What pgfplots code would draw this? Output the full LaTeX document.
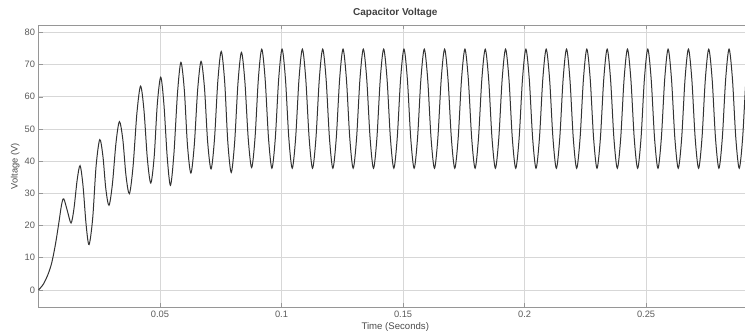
\documentclass[border=0pt]{standalone}
\usepackage{pgfplots}
\pgfplotsset{compat=1.18}
\usepackage{pgfplotstable}
\usepackage{fontspec}
\setmainfont{Liberation Sans}
\definecolor{tickgray}{RGB}{90,90,90}
\definecolor{gridgray}{RGB}{215,215,215}
\definecolor{axgray}{RGB}{150,150,150}
\pgfplotstableread[row sep=\\]{
t v\\
0 0\\ 0.002 1.8\\ 0.004 5.0\\ 0.0055 8.6\\ 0.007 14.3\\ 0.0083 20.5\\ 0.0095 26.5\\
0.0104 28.3\\ 0.0119 24.5\\ 0.0134 20.8\\ 0.0146 25.3\\ 0.0159 34.1\\
0.0171 38.6\\ 0.0183 32.5\\ 0.0196 20.2\\ 0.0208 14.1\\ 0.0223 22.3\\ 0.0237 38.5\\
0.0252 46.7\\ 0.0265 41.6\\ 0.0277 31.4\\ 0.0290 26.3\\ 0.0304 32.8\\ 0.0319 45.8\\
0.0333 52.3\\ 0.0347 46.7\\ 0.0360 35.5\\ 0.0374 29.9\\ 0.0389 38.3\\ 0.0405 55.0\\
0.0420 63.3\\ 0.0434 55.8\\ 0.0448 40.7\\ 0.0462 33.2\\ 0.0476 41.4\\ 0.0489 57.9\\
0.0503 66.1\\ 0.0516 57.7\\ 0.0530 40.9\\ 0.0543 32.5\\ 0.0557 42.1\\ 0.0572 61.2\\
0.0586 70.7\\ 0.0600 62.1\\ 0.0613 44.9\\ 0.0627 36.3\\ 0.0641 45.0\\ 0.0655 62.3\\
0.0669 71.0\\ 0.0683 62.7\\ 0.0696 46.0\\ 0.0710 37.6\\ 0.0724 46.7\\ 0.0738 65.0\\
0.0752 74.1\\ 0.0766 64.7\\ 0.0779 45.9\\ 0.0793 36.5\\ 0.0807 45.8\\ 0.0821 64.5\\
0.0835 73.8\\ 0.0849 64.9\\ 0.0863 47.0\\ 0.0877 38.0\\ 0.08909 47.2\\ 0.09047 65.6\\
0.09186 74.8\\ 0.09325 65.55\\ 0.09465 47.05\\ 0.09604 37.8\\ 0.09743 47.05\\ 0.09883 65.55\\
0.10022 74.8\\ 0.10161 65.55\\ 0.10301 47.05\\ 0.10440 37.8\\ 0.10579 47.05\\ 0.10719 65.55\\
0.10858 74.8\\ 0.10997 65.55\\ 0.11137 47.05\\ 0.11276 37.8\\ 0.11415 47.05\\ 0.11555 65.55\\
0.11694 74.8\\ 0.11833 65.55\\ 0.11973 47.05\\ 0.12112 37.8\\ 0.12251 47.05\\ 0.12391 65.55\\
0.12530 74.8\\ 0.12669 65.55\\ 0.12809 47.05\\ 0.12948 37.8\\ 0.13087 47.05\\ 0.13227 65.55\\
0.13366 74.8\\ 0.13505 65.55\\ 0.13645 47.05\\ 0.13784 37.8\\ 0.13923 47.05\\ 0.14063 65.55\\
0.14202 74.8\\ 0.14341 65.55\\ 0.14481 47.05\\ 0.14620 37.8\\ 0.14759 47.05\\ 0.14899 65.55\\
0.15038 74.8\\ 0.15177 65.55\\ 0.15317 47.05\\ 0.15456 37.8\\ 0.15595 47.05\\ 0.15735 65.55\\
0.15874 74.8\\ 0.16013 65.55\\ 0.16153 47.05\\ 0.16292 37.8\\ 0.16431 47.05\\ 0.16571 65.55\\
0.16710 74.8\\ 0.16849 65.55\\ 0.16989 47.05\\ 0.17128 37.8\\ 0.17267 47.05\\ 0.17407 65.55\\
0.17546 74.8\\ 0.17685 65.55\\ 0.17825 47.05\\ 0.17964 37.8\\ 0.18103 47.05\\ 0.18243 65.55\\
0.18382 74.8\\ 0.18521 65.55\\ 0.18661 47.05\\ 0.18800 37.8\\ 0.18939 47.05\\ 0.19079 65.55\\
0.19218 74.8\\ 0.19357 65.55\\ 0.19497 47.05\\ 0.19636 37.8\\ 0.19775 47.05\\ 0.19915 65.55\\
0.20054 74.8\\ 0.20193 65.55\\ 0.20333 47.05\\ 0.20472 37.8\\ 0.20611 47.05\\ 0.20751 65.55\\
0.20890 74.8\\ 0.21029 65.55\\ 0.21169 47.05\\ 0.21308 37.8\\ 0.21447 47.05\\ 0.21587 65.55\\
0.21726 74.8\\ 0.21865 65.55\\ 0.22005 47.05\\ 0.22144 37.8\\ 0.22283 47.05\\ 0.22423 65.55\\
0.22562 74.8\\ 0.22701 65.55\\ 0.22841 47.05\\ 0.22980 37.8\\ 0.23119 47.05\\ 0.23259 65.55\\
0.23398 74.8\\ 0.23537 65.55\\ 0.23677 47.05\\ 0.23816 37.8\\ 0.23955 47.05\\ 0.24095 65.55\\
0.24234 74.8\\ 0.24373 65.55\\ 0.24513 47.05\\ 0.24652 37.8\\ 0.24791 47.05\\ 0.24931 65.55\\
0.25070 74.8\\ 0.25209 65.55\\ 0.25349 47.05\\ 0.25488 37.8\\ 0.25627 47.05\\ 0.25767 65.55\\
0.25906 74.8\\ 0.26045 65.55\\ 0.26185 47.05\\ 0.26324 37.8\\ 0.26463 47.05\\ 0.26603 65.55\\
0.26742 74.8\\ 0.26881 65.55\\ 0.27021 47.05\\ 0.27160 37.8\\ 0.27299 47.05\\ 0.27439 65.55\\
0.27578 74.8\\ 0.27717 65.55\\ 0.27857 47.05\\ 0.27996 37.8\\ 0.28135 47.05\\ 0.28275 65.55\\
0.28414 74.8\\ 0.28553 65.55\\ 0.28693 47.05\\ 0.28832 37.8\\ 0.28971 47.05\\ 0.29111 65.55\\
0.29250 74.8\\
}\vdata
\begin{document}
\begin{tikzpicture}
\useasboundingbox (-38.5pt,-25pt) rectangle (706.5pt,307pt);
\begin{axis}[
  at={(0,0)}, anchor=south west,
  scale only axis,
  width=706.5pt, height=282pt,
  xmin=0, xmax=0.2907,
  ymin=-5.3, ymax=82.3,
  axis x line*=box, axis y line*=left,
  axis line style={axgray, line width=0.6pt},
  xtick={0.05,0.1,0.15,0.2,0.25},
  xticklabels={0.05,0.1,0.15,0.2,0.25},
  scaled x ticks=false,
  ytick={0,10,...,80},
  /pgf/number format/assume math mode=true,
  tick style={axgray, line width=0.5pt},
  major tick length=4pt,
  tick label style={font=\fontsize{9.3}{10}\selectfont, text=tickgray},
  grid=major,
  major grid style={gridgray, line width=0.6pt},
  title={Capacitor Voltage},
  title style={font=\bfseries\fontsize{10}{12}\selectfont, text=black!75, at={(axis description cs:0.505,1.013)}, anchor=base},
  xlabel={Time (Seconds)},
  xlabel style={font=\fontsize{9.6}{11}\selectfont, text=black!70, at={(axis description cs:0.505,-0.071)}, anchor=center},
  ylabel={Voltage (V)},
  ylabel style={font=\fontsize{9.3}{11}\selectfont, text=black!70, at={(axis description cs:-0.033,0.5)}, anchor=center, rotate=0},
  clip=true,
]
\addplot[smooth, color=black!80, line width=1pt] table[x=t, y=v] {\vdata};
\end{axis}
\end{tikzpicture}
\end{document}
